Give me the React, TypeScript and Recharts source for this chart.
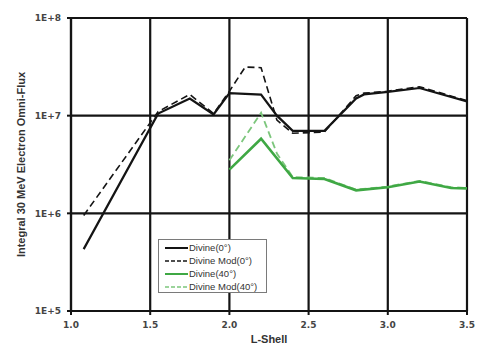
import React from "react";
import { LineChart, Line, XAxis, YAxis, CartesianGrid, Label } from "recharts";

const xTicks = [1.0, 1.5, 2.0, 2.5, 3.0, 3.5];
const yTicks = [1e5, 1e6, 1e7, 1e8];

const divine0L = [1.08, 1.55, 1.75, 1.9, 2.0, 2.2, 2.3, 2.4, 2.6, 2.8, 2.85, 3.0, 3.2, 3.5];
const divine0V = [4.3e5, 1.05e7, 1.5e7, 1.03e7, 1.7e7, 1.64e7, 1.0e7, 7.0e6, 7.0e6, 1.5e7, 1.65e7, 1.75e7, 1.92e7, 1.4e7];

const divineMod0L = [1.08, 1.55, 1.75, 1.9, 2.0, 2.1, 2.2, 2.3, 2.4, 2.6, 2.8, 2.85, 3.0, 3.2, 3.5];
const divineMod0V = [9.5e5, 1.1e7, 1.65e7, 1.05e7, 1.78e7, 3.15e7, 3.1e7, 9.0e6, 6.6e6, 6.8e6, 1.6e7, 1.7e7, 1.78e7, 1.98e7, 1.42e7];

const divine40L = [2.0, 2.2, 2.4, 2.6, 2.8, 3.0, 3.2, 3.4, 3.5];
const divine40V = [2.8e6, 5.8e6, 2.3e6, 2.25e6, 1.72e6, 1.85e6, 2.12e6, 1.82e6, 1.8e6];

const divineMod40L = [2.0, 2.2, 2.3, 2.4, 2.6, 2.8, 3.0, 3.2, 3.4, 3.5];
const divineMod40V = [3.5e6, 1.07e7, 4.1e6, 2.35e6, 2.3e6, 1.75e6, 1.88e6, 2.15e6, 1.85e6, 1.82e6];

const toData = (xs: number[], ys: number[]) => xs.map((x, i) => ({ x, y: ys[i] }));

const d0 = toData(divine0L, divine0V);
const dm0 = toData(divineMod0L, divineMod0V);
const d40 = toData(divine40L, divine40V);
const dm40 = toData(divineMod40L, divineMod40V);

const BLACK = "#141414";
const GREEN = "#3fa844";
const LGREEN = "#7cc67c";

const legendItems = [
  { name: "Divine(0°)", color: BLACK, dash: undefined as string | undefined, w: 2 },
  { name: "Divine Mod(0°)", color: BLACK, dash: "4 2", w: 1.5 },
  { name: "Divine(40°)", color: GREEN, dash: undefined, w: 2 },
  { name: "Divine Mod(40°)", color: LGREEN, dash: "4 2", w: 1.5 },
];

const LegendBox = () => (
  <div
    style={{
      position: "absolute",
      left: 158,
      top: 239,
      width: 109,
      height: 54,
      boxSizing: "border-box",
      border: "1px solid #7a7a7a",
      background: "#fff",
      padding: "2px 0 0 6px",
      fontFamily: "'Liberation Sans', Arial, sans-serif",
      fontSize: 9.5,
      lineHeight: "12px",
      color: "#333",
    }}
  >
    {legendItems.map((it) => (
      <div key={it.name} style={{ display: "flex", alignItems: "center", height: 12.8 }}>
        <svg width={23} height={6} style={{ marginRight: 1 }}>
          <line x1={0} y1={3} x2={23} y2={3} stroke={it.color} strokeWidth={it.w} strokeDasharray={it.dash} />
        </svg>
        <span>{it.name}</span>
      </div>
    ))}
  </div>
);

const fmtY = (v: number) => "1E+" + Math.round(Math.log10(v));
const fmtX = (v: number) => v.toFixed(1);

const tickStyle = { fontFamily: "'DejaVu Sans', sans-serif", fontSize: 9, fontWeight: 700, fill: "#444" };

export default function App() {
  return (
    <div style={{ position: "absolute", left: 0, top: 0, width: 477, height: 345, background: "#fff" }}>
      <LineChart width={477} height={345} margin={{ top: 18, right: 10, left: 0, bottom: 0 }}>
        <CartesianGrid stroke={BLACK} strokeWidth={2.2} horizontalValues={yTicks} verticalValues={xTicks} />
        <XAxis
          dataKey="x"
          type="number"
          domain={[1, 3.5]}
          ticks={xTicks}
          tickFormatter={fmtX}
          allowDataOverflow
          height={34}
          tick={tickStyle}
          tickSize={4}
          tickMargin={7}
          axisLine={{ stroke: BLACK, strokeWidth: 2.2 }}
          tickLine={{ stroke: BLACK, strokeWidth: 2 }}
        >
          <Label
            value="L-Shell"
            position="insideBottom"
            offset={2}
            style={{ fontFamily: "'Liberation Sans', Arial, sans-serif", fontSize: 11, fontWeight: 700, fill: "#333" }}
          />
        </XAxis>
        <YAxis
          dataKey="y"
          type="number"
          scale="log"
          domain={[1e5, 1e8]}
          ticks={yTicks}
          tickFormatter={fmtY}
          allowDataOverflow
          width={71}
          tick={tickStyle}
          tickSize={4}
          tickMargin={6}
          axisLine={{ stroke: BLACK, strokeWidth: 2.2 }}
          tickLine={{ stroke: BLACK, strokeWidth: 2 }}
        >
          <Label
            value="Integral 30 MeV Electron Omni-Flux"
            angle={-90}
            position="insideLeft"
            offset={0}
            dx={21}
            style={{ textAnchor: "middle", fontFamily: "'Liberation Sans', Arial, sans-serif", fontSize: 11, fontWeight: 700, fill: "#333" }}
          />
        </YAxis>
        <Line data={dm40} dataKey="y" name="Divine Mod(40°)" stroke={LGREEN} strokeWidth={1.8} strokeDasharray="7 4" dot={false} isAnimationActive={false} />
        <Line data={d40} dataKey="y" name="Divine(40°)" stroke={GREEN} strokeWidth={2.6} dot={false} isAnimationActive={false} />
        <Line data={dm0} dataKey="y" name="Divine Mod(0°)" stroke={BLACK} strokeWidth={1.6} strokeDasharray="7 4" dot={false} isAnimationActive={false} />
        <Line data={d0} dataKey="y" name="Divine(0°)" stroke={BLACK} strokeWidth={2.2} dot={false} isAnimationActive={false} />
      </LineChart>
      <LegendBox />
    </div>
  );
}
